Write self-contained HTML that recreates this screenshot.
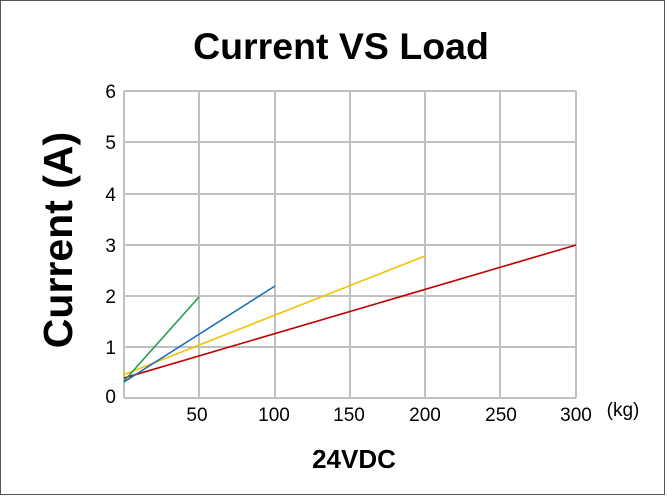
<!DOCTYPE html>
<html><head><style>
body{margin:0;background:#fff}
</style></head><body>
<svg width="667" height="497" xmlns="http://www.w3.org/2000/svg" font-family="Liberation Sans, Arial, sans-serif">
<rect x="0.5" y="0.5" width="664" height="494" fill="#fff" stroke="#555" stroke-width="1"/>
<text x="341" y="59" font-size="37.5" font-weight="bold" text-anchor="middle">Current VS Load</text>
<g stroke="#c0c0c0" stroke-width="2">
<line x1="124" y1="91" x2="576" y2="91"/>
<line x1="124" y1="142" x2="576" y2="142"/>
<line x1="124" y1="194" x2="576" y2="194"/>
<line x1="124" y1="245" x2="576" y2="245"/>
<line x1="124" y1="296" x2="576" y2="296"/>
<line x1="124" y1="347" x2="576" y2="347"/>
<line x1="124" y1="398" x2="576" y2="398"/>
<line x1="124" y1="91" x2="124" y2="398"/>
<line x1="199" y1="91" x2="199" y2="398"/>
<line x1="275" y1="91" x2="275" y2="398"/>
<line x1="350" y1="91" x2="350" y2="398"/>
<line x1="425" y1="91" x2="425" y2="398"/>
<line x1="500" y1="91" x2="500" y2="398"/>
<line x1="576" y1="91" x2="576" y2="398"/>
</g>
<g font-size="19" text-anchor="end">
<text x="116" y="98">6</text><text x="116" y="149">5</text><text x="116" y="201">4</text>
<text x="116" y="252">3</text><text x="116" y="303">2</text><text x="116" y="354">1</text><text x="116" y="403">0</text>
</g>
<g font-size="19" text-anchor="middle">
<text x="197" y="421">50</text><text x="274" y="421">100</text><text x="349" y="421">150</text>
<text x="425" y="421">200</text><text x="501" y="421">250</text><text x="576" y="421">300</text>
</g>
<text x="623" y="416" font-size="19" text-anchor="middle">(kg)</text>
<text x="354" y="468" font-size="26" font-weight="bold" text-anchor="middle">24VDC</text>
<text transform="translate(72,240) rotate(-90)" font-size="41" font-weight="bold" text-anchor="middle">Current (A)</text>
<g stroke-width="1.6" fill="none">
<line x1="124" y1="378" x2="576" y2="245" stroke="#c00000"/>
<line x1="123" y1="375" x2="425" y2="256" stroke="#f5c000"/>
<line x1="124" y1="382" x2="275" y2="286" stroke="#1f6fb4"/>
<line x1="124" y1="381" x2="199" y2="297" stroke="#1fa050"/>
</g>
</svg>
</body></html>
